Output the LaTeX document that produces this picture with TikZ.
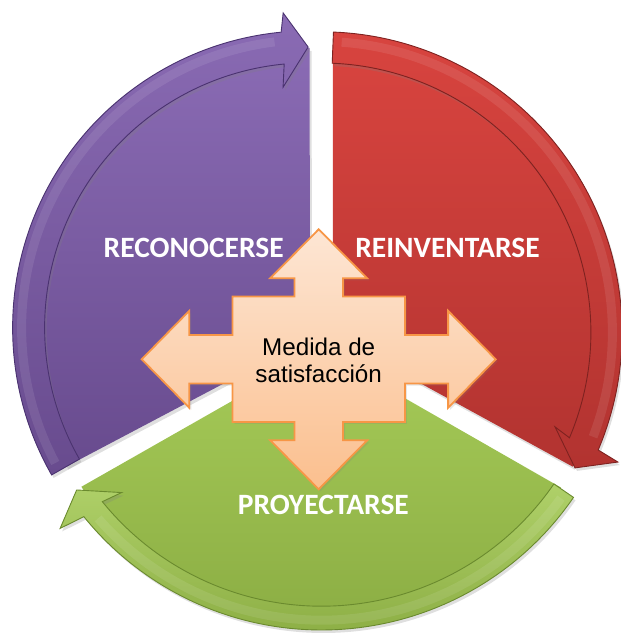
\documentclass[tikz,border=0pt]{standalone}
\usepackage{fontspec}
\setmainfont{Liberation Sans}
\newfontfamily\lblfont{Carlito}
\usetikzlibrary{shadows}
\definecolor{purT}{HTML}{8A6BB4}
\definecolor{purB}{HTML}{684B8E}
\definecolor{purD}{HTML}{4A3270}
\definecolor{redT}{HTML}{D8443F}
\definecolor{redB}{HTML}{B23330}
\definecolor{redD}{HTML}{7E2220}
\definecolor{grnT}{HTML}{A6CB58}
\definecolor{grnB}{HTML}{8CAE44}
\definecolor{grnD}{HTML}{6A8A2E}
\definecolor{crT}{HTML}{FDE6D4}
\definecolor{crB}{HTML}{FBBF8E}
\definecolor{crD}{HTML}{F79646}
\begin{document}
\begin{tikzpicture}[x=1pt,y=1pt,
  shad/.style={drop shadow={opacity=0.25,shadow xshift=2pt,shadow yshift=-3pt}},
  piece/.style={shad},
  rim/.style={shad,draw=#1,line width=0.9pt},
  shine/.style={white,opacity=0.09,line width=9pt},
  lbl/.style={font=\lblfont\bfseries\fontsize{29.5}{32}\selectfont,text=white,inner sep=0pt,anchor=base},
  cross/.style={top color=crT,bottom color=crB,draw=crD,line width=1.8pt,line join=miter,
     drop shadow={opacity=0.2,shadow xshift=2pt,shadow yshift=-2pt}},
  ctxt/.style={font=\fontsize{24.2}{27}\selectfont,align=center,inner sep=0pt,text=black}]
\useasboundingbox (0,0) rectangle (621,641);
% purple
\begin{scope}[shift={(309.6,313.2)}]
  \path[piece,top color=purT,bottom color=purB] (0.4,-10.2) -- (90:280) arc[start angle=90,end angle=209.7,radius=280] -- cycle;
  \path[rim=purD,top color=purT,bottom color=purB] (209.7:297) arc[start angle=209.7,end angle=95.5,radius=297] -- (94.8:316) -- (90.3:280.8) -- (96.3:242) -- (95.5:265) arc[start angle=95.5,end angle=209.7,radius=265] -- cycle;
  \draw[shine] (208:288) arc[start angle=208,end angle=97,radius=288];
\end{scope}
% red
\begin{scope}[shift={(321.4,308.5)}]
  \path[piece,top color=redT,bottom color=redB] (11.6,-2.9) -- (87.7:285) arc[start angle=87.7,end angle=-28.1,radius=285] -- cycle;
  \path[rim=redD,top color=redT,bottom color=redB] (87.7:300.7) arc[start angle=87.7,end angle=-23,radius=300.7] -- (-23.6:323.6) -- (-28.1:287.5) -- (-22:252) -- (-23:269.5) arc[start angle=-23,end angle=87.7,radius=269.5] -- cycle;
  \draw[shine] (86:291) arc[start angle=86,end angle=-21,radius=291];
\end{scope}
% green
\begin{scope}[shift={(321.5,316.8)}]
  \path[piece,top color=grnT,bottom color=grnB] (-0.3,-26.1) -- (-34.3:290) arc[start angle=-34.3,end angle=-145.9,radius=290] -- cycle;
  \path[rim=grnD,top color=grnT!90!white,bottom color=grnB] (-34.5:305.8) arc[start angle=-34.5,end angle=-141,radius=305.8] -- (-142:331.7) -- (-145.9:295.7) -- (-139.9:261.4) -- (-141:282) arc[start angle=-141,end angle=-34.5,radius=282] -- cycle;
  \draw[shine] (-36:296) arc[start angle=-36,end angle=-139,radius=296];
\end{scope}
% labels
\node[lbl] (reco) at (193.7,383.7) {RECONOCERSE};
\node[lbl] (rein) at (447.5,383.7) {REINVENTARSE};
\node[lbl] (proy) at (323.4,126) {PROYECTARSE};
% central quad arrow
\begin{scope}[shift={(318.7,281.7)}]
  \path[cross] (0,130) -- (48.5,81) -- (24.3,81) -- (24.3,62.7) -- (86.2,62.7) -- (86.2,24.3) -- (129.4,24.3) -- (129.4,48.5) -- (177,0) -- (129.4,-48.5) -- (129.4,-24.3) -- (86.2,-24.3) -- (86.2,-62.7) -- (24.3,-62.7) -- (24.3,-81) -- (48.5,-81) -- (0,-130) -- (-48.5,-81) -- (-24.3,-81) -- (-24.3,-62.7) -- (-86.2,-62.7) -- (-86.2,-24.3) -- (-129.4,-24.3) -- (-129.4,-48.5) -- (-177,0) -- (-129.4,48.5) -- (-129.4,24.3) -- (-86.2,24.3) -- (-86.2,62.7) -- (-24.3,62.7) -- (-24.3,81) -- (-48.5,81) -- cycle;
\end{scope}
\node[ctxt] (medida) at (318.7,281) {Medida de\\satisfacción};
\end{tikzpicture}
\end{document}
